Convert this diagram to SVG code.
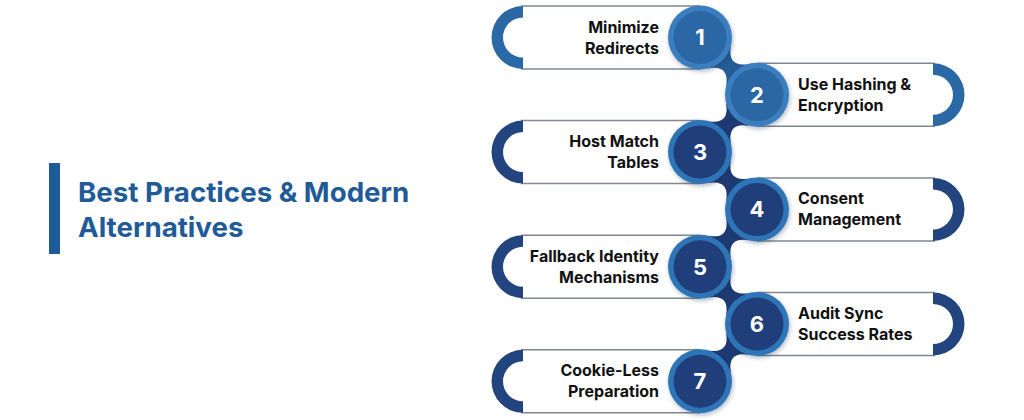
<svg xmlns="http://www.w3.org/2000/svg" xmlns:xlink="http://www.w3.org/1999/xlink" width="1024" height="420" viewBox="0 0 1024 420">
  <defs>
    <style>
      .title { font-family: Inter, "Liberation Sans", sans-serif; font-weight: 700; font-size: 27.7px; fill: #1f5b98; }
      .lbl { font-family: Inter, "Liberation Sans", sans-serif; font-weight: 700; font-size: 16px; fill: #111111; }
      .num { font-family: Inter, "Liberation Sans", sans-serif; font-weight: 700; font-size: 22px; fill: #ffffff; text-anchor: middle; }
      .edge { stroke: #7f8790; stroke-width: 1.5; fill: none; }
      .bar { fill: #ffffff; }
      .capA { fill: #2a69a6; }
      .capB { fill: #22447f; }
      .ringA { fill: #3a7ebf; }
      .coreA { fill: #2b67a5; }
      .ringB { fill: #2f74b7; }
      .coreB { fill: #203e79; }
      .neckA { fill: #255b97; }
      .neckB { fill: #1e3a73; }
    </style>
    <filter id="sh" x="-30%" y="-30%" width="160%" height="160%">
      <feDropShadow dx="1" dy="2" stdDeviation="2" flood-color="#1a3350" flood-opacity="0.35"/>
    </filter>
    <path id="neck" d="M30.9,8.4 Q27.15,30 48.8,26.4 L26.1,48.9 Q29.85,27.2 8.2,30.9 Z"/>
    <path id="capL" d="M0,-31.5 A31.5,31.5 0 0 0 0,31.5 L0,20 A20,20 0 0 1 0,-20 Z"/>
    <path id="capR" d="M0,-31.5 A31.5,31.5 0 0 1 0,31.5 L0,20 A20,20 0 0 0 0,-20 Z"/>
  </defs>

  <rect width="1024" height="420" fill="#ffffff"/>

  <g id="title">
    <rect x="49" y="163" width="11" height="91" fill="#1f5b98"/>
    <text class="title" x="78" y="201.5">Best Practices &amp; Modern</text>
    <text class="title" x="78" y="237">Alternatives</text>
  </g>

  <g id="connectors">
    <use href="#neck" class="neckA" transform="translate(700,37.5)"/>
    <use href="#neck" class="neckB" transform="translate(757,94.8) scale(-1,1)"/>
    <use href="#neck" class="neckB" transform="translate(700,152.1)"/>
    <use href="#neck" class="neckB" transform="translate(757,209.4) scale(-1,1)"/>
    <use href="#neck" class="neckB" transform="translate(700,266.7)"/>
    <use href="#neck" class="neckB" transform="translate(757,324) scale(-1,1)"/>
  </g>

  <g id="node1" transform="translate(0,37.5)">
    <rect class="bar" x="523" y="-31.5" width="177" height="63"/>
    <line class="edge" x1="521" y1="-31.5" x2="700" y2="-31.5"/>
    <line class="edge" x1="521" y1="31.5" x2="700" y2="31.5"/>
    <use href="#capL" class="capA" transform="translate(523,0)"/>
    <circle class="ringA" cx="700" cy="0" r="32" filter="url(#sh)"/>
    <circle class="coreA" cx="700" cy="0" r="26.5"/>
    <text class="num" x="700" y="7.8">1</text>
    <text class="lbl" x="659" y="-5" text-anchor="end">Minimize</text>
    <text class="lbl" x="659" y="16" text-anchor="end">Redirects</text>
  </g>

  <g id="node2" transform="translate(0,94.8)">
    <rect class="bar" x="757" y="-31.5" width="176" height="63"/>
    <line class="edge" x1="757" y1="-31.5" x2="935" y2="-31.5"/>
    <line class="edge" x1="757" y1="31.5" x2="935" y2="31.5"/>
    <use href="#capR" class="capA" transform="translate(933,0)"/>
    <circle class="ringA" cx="757" cy="0" r="32" filter="url(#sh)"/>
    <circle class="coreA" cx="757" cy="0" r="26.5"/>
    <text class="num" x="757" y="7.8">2</text>
    <text class="lbl" x="798" y="-5">Use Hashing &amp;</text>
    <text class="lbl" x="798" y="16">Encryption</text>
  </g>

  <g id="node3" transform="translate(0,152.1)">
    <rect class="bar" x="523" y="-31.5" width="177" height="63"/>
    <line class="edge" x1="521" y1="-31.5" x2="700" y2="-31.5"/>
    <line class="edge" x1="521" y1="31.5" x2="700" y2="31.5"/>
    <use href="#capL" class="capB" transform="translate(523,0)"/>
    <circle class="ringB" cx="700" cy="0" r="32" filter="url(#sh)"/>
    <circle class="coreB" cx="700" cy="0" r="26.5"/>
    <text class="num" x="700" y="7.8">3</text>
    <text class="lbl" x="659" y="-5" text-anchor="end">Host Match</text>
    <text class="lbl" x="659" y="16" text-anchor="end">Tables</text>
  </g>

  <g id="node4" transform="translate(0,209.4)">
    <rect class="bar" x="757" y="-31.5" width="176" height="63"/>
    <line class="edge" x1="757" y1="-31.5" x2="935" y2="-31.5"/>
    <line class="edge" x1="757" y1="31.5" x2="935" y2="31.5"/>
    <use href="#capR" class="capB" transform="translate(933,0)"/>
    <circle class="ringB" cx="757" cy="0" r="32" filter="url(#sh)"/>
    <circle class="coreB" cx="757" cy="0" r="26.5"/>
    <text class="num" x="757" y="7.8">4</text>
    <text class="lbl" x="798" y="-5">Consent</text>
    <text class="lbl" x="798" y="16">Management</text>
  </g>

  <g id="node5" transform="translate(0,266.7)">
    <rect class="bar" x="523" y="-31.5" width="177" height="63"/>
    <line class="edge" x1="521" y1="-31.5" x2="700" y2="-31.5"/>
    <line class="edge" x1="521" y1="31.5" x2="700" y2="31.5"/>
    <use href="#capL" class="capB" transform="translate(523,0)"/>
    <circle class="ringB" cx="700" cy="0" r="32" filter="url(#sh)"/>
    <circle class="coreB" cx="700" cy="0" r="26.5"/>
    <text class="num" x="700" y="7.8">5</text>
    <text class="lbl" x="659" y="-5" text-anchor="end">Fallback Identity</text>
    <text class="lbl" x="659" y="16" text-anchor="end">Mechanisms</text>
  </g>

  <g id="node6" transform="translate(0,324)">
    <rect class="bar" x="757" y="-31.5" width="176" height="63"/>
    <line class="edge" x1="757" y1="-31.5" x2="935" y2="-31.5"/>
    <line class="edge" x1="757" y1="31.5" x2="935" y2="31.5"/>
    <use href="#capR" class="capB" transform="translate(933,0)"/>
    <circle class="ringB" cx="757" cy="0" r="32" filter="url(#sh)"/>
    <circle class="coreB" cx="757" cy="0" r="26.5"/>
    <text class="num" x="757" y="7.8">6</text>
    <text class="lbl" x="798" y="-5">Audit Sync</text>
    <text class="lbl" x="798" y="16">Success Rates</text>
  </g>

  <g id="node7" transform="translate(0,381.3)">
    <rect class="bar" x="523" y="-31.5" width="177" height="63"/>
    <line class="edge" x1="521" y1="-31.5" x2="700" y2="-31.5"/>
    <line class="edge" x1="521" y1="31.5" x2="700" y2="31.5"/>
    <use href="#capL" class="capB" transform="translate(523,0)"/>
    <circle class="ringB" cx="700" cy="0" r="32" filter="url(#sh)"/>
    <circle class="coreB" cx="700" cy="0" r="26.5"/>
    <text class="num" x="700" y="7.8">7</text>
    <text class="lbl" x="659" y="-5" text-anchor="end">Cookie-Less</text>
    <text class="lbl" x="659" y="16" text-anchor="end">Preparation</text>
  </g>
</svg>
